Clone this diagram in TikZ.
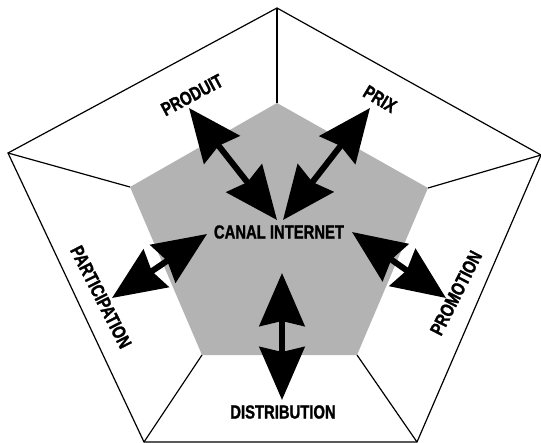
\documentclass[tikz,border=0pt]{standalone}
\usepackage{fontspec}
\newfontfamily\labfont[FakeStretch=0.78, BoldFeatures={FakeBold=1.3}]{Liberation Sans}
\usetikzlibrary{arrows.meta}
\definecolor{pentagray}{HTML}{B3B3B3}
\begin{document}
\begin{tikzpicture}[x=1pt,y=-1pt,
  edge/.style={line width=1.2pt, line join=miter},
  lab/.style={font=\labfont\bfseries\fontsize{19}{20}\selectfont, inner sep=0pt},
  bigarrow/.style={line width=6pt,
    {Stealth[length=53pt,width=45pt,inset=5pt]}-{Stealth[length=53pt,width=45pt,inset=5pt]}}]
\useasboundingbox (0,0) rectangle (541,442);
% outer pentagon
\coordinate (OT) at (277,8);
\coordinate (OL) at (8,153);
\coordinate (OR) at (541,155);
\coordinate (OBL) at (144,442);
\coordinate (OBR) at (417,442);
% inner pentagon
\coordinate (IT) at (277,103);
\coordinate (IL) at (130,187);
\coordinate (IR) at (428,188);
\coordinate (IBL) at (202,355);
\coordinate (IBR) at (357,355);
\fill[pentagray] (IT) -- (IR) -- (IBR) -- (IBL) -- (IL) -- cycle;
\draw[edge] (OT) -- (OR) -- (OBR) -- (OBL) -- (OL) -- cycle;
\draw[edge] (IT) -- (OT);
\draw[edge] (IL) -- (OL);
\draw[edge] (IR) -- (OR);
\draw[edge] (IBL) -- (OBL);
\draw[edge] (IBR) -- (OBR);
% labels
\node[lab] (canal) at (279,232) {CANAL INTERNET};
\node[lab, rotate=28] (produit) at (192,95) {PRODUIT};
\node[lab, rotate=-31] (prix) at (380,99) {PRIX};
\node[lab, rotate=-63] (particip) at (101,297) {PARTICIPATION};
\node[lab, rotate=63] (promo) at (456,293) {PROMOTION};
\node[lab] (distrib) at (283,412) {DISTRIBUTION};
% arrow ends
\coordinate (aP1) at (189,108);
\coordinate (aP2) at (277,220);
\coordinate (aX1) at (370,108);
\coordinate (aX2) at (283,220);
\coordinate (aPa1) at (112,298);
\coordinate (aPa2) at (207,234);
\coordinate (aPr1) at (352,232);
\coordinate (aPr2) at (446,298);
\coordinate (aD1) at (282,273);
\coordinate (aD2) at (282,400);
\draw[bigarrow] (aP1) -- (aP2);
\draw[bigarrow] (aX1) -- (aX2);
\draw[bigarrow] (aPa1) -- (aPa2);
\draw[bigarrow] (aPr1) -- (aPr2);
\draw[bigarrow] (aD1) -- (aD2);
\end{tikzpicture}
\end{document}
